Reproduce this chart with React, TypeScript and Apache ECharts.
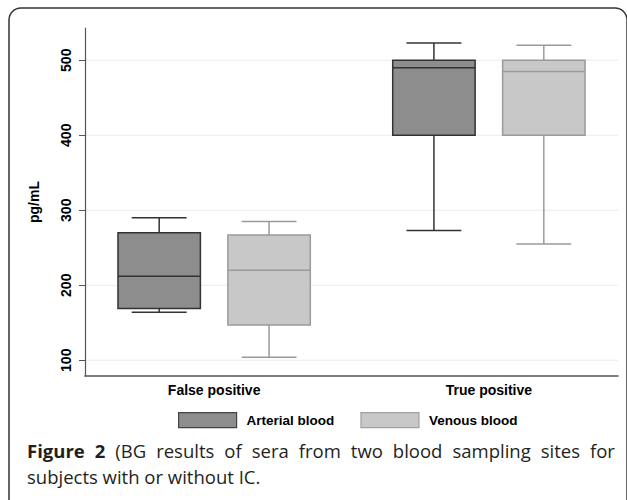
import React, { useEffect, useRef } from "react";
import * as echarts from "echarts";

const categories = ["False positive", "True positive"];
const seriesNames = ["Arterial blood", "Venous blood"];
// [categoryIndex, min, q1, median, q3, max]
const arterialBoxes = [
  [0, 164, 169, 212, 270, 290],
  [1, 273, 400, 490, 500, 523],
];
const venousBoxes = [
  [0, 104, 147, 220, 267, 285],
  [1, 255, 400, 485, 500, 520],
];
const yTicks = [100, 200, 300, 400, 500];
const captionBoldWords = ["Figure", "2"];
const captionLine1Words = ["(BG", "results", "of", "sera", "from", "two", "blood", "sampling", "sites", "for"];
const captionLine2 = "subjects with or without IC.";

function makeBoxRender(offset: number, stroke: string, fill: string, lw: number) {
  return (params: any, api: any) => {
    const x = api.value(0) + offset;
    const pMin = api.coord([x, api.value(1)]);
    const pQ1 = api.coord([x, api.value(2)]);
    const pMed = api.coord([x, api.value(3)]);
    const pQ3 = api.coord([x, api.value(4)]);
    const pMax = api.coord([x, api.value(5)]);
    const bw = api.size([0.3, 0])[0];
    const cw = api.size([0.2, 0])[0];
    const cx = pMed[0];
    const ls = { stroke, lineWidth: lw };
    return {
      type: "group",
      children: [
        { type: "line", shape: { x1: cx, y1: pQ3[1], x2: cx, y2: pMax[1] }, style: ls },
        { type: "line", shape: { x1: cx - cw / 2, y1: pMax[1], x2: cx + cw / 2, y2: pMax[1] }, style: ls },
        { type: "line", shape: { x1: cx, y1: pQ1[1], x2: cx, y2: pMin[1] }, style: ls },
        { type: "line", shape: { x1: cx - cw / 2, y1: pMin[1], x2: cx + cw / 2, y2: pMin[1] }, style: ls },
        {
          type: "rect",
          shape: { x: cx - bw / 2, y: pQ3[1], width: bw, height: pQ1[1] - pQ3[1] },
          style: { fill, stroke, lineWidth: lw },
        },
        { type: "line", shape: { x1: cx - bw / 2, y1: pMed[1], x2: cx + bw / 2, y2: pMed[1] }, style: ls },
      ],
    };
  };
}

export default function App() {
  const ref = useRef<HTMLDivElement>(null);
  useEffect(() => {
    document.body.style.margin = "0";
    const chart = echarts.init(ref.current!, null, { renderer: "svg" });
    const axisFont = "'Liberation Sans', Arial, sans-serif";
    const capFont = "'Open Sans', sans-serif";
    const capSize = 18.5;
    const line1 =
      captionBoldWords.map((w) => `{b|${w}}`).join("{s| }") +
      "{s| }" +
      captionLine1Words.map((w) => `{n|${w}}`).join("{s| }");
    chart.setOption({
      animation: false,
      backgroundColor: "#ffffff",
      grid: { left: 85, right: 9, top: 28, bottom: 124, containLabel: false },
      xAxis: {
        type: "value",
        min: -0.47,
        max: 1.47,
        axisLine: { show: true, onZero: false, lineStyle: { color: "#555", width: 1.5 } },
        axisTick: { show: false },
        splitLine: { show: false },
        axisLabel: {
          customValues: [0, 1],
          formatter: (v: number) => categories[Math.round(v)] ?? "",
          fontFamily: axisFont,
          fontWeight: "bold",
          fontSize: 14,
          color: "#000",
          margin: 7,
        },
      },
      yAxis: {
        type: "value",
        min: 79,
        max: 543,
        name: "pg/mL",
        nameLocation: "middle",
        nameGap: 44,
        nameRotate: 90,
        nameTextStyle: { fontFamily: axisFont, fontWeight: "bold", fontSize: 14, color: "#000" },
        axisLine: { show: true, onZero: false, lineStyle: { color: "#555", width: 1.2 } },
        axisTick: { show: true, customValues: yTicks, length: 6, lineStyle: { color: "#555" } },
        splitLine: { show: false },
        axisLabel: {
          customValues: yTicks,
          rotate: 90,
          fontFamily: axisFont,
          fontWeight: "bold",
          fontSize: 14,
          color: "#000",
          margin: 12,
        },
      },
      legend: {
        left: 173,
        top: 407,
        itemWidth: 58,
        itemHeight: 15,
        itemGap: 26,
        icon: "rect",
        textStyle: { fontFamily: axisFont, fontWeight: "bold", fontSize: 13.5, color: "#000", padding: [0, 0, 0, 5] },
        data: [
          { name: seriesNames[0], itemStyle: { color: "#8d8d8d", borderColor: "#444", borderWidth: 1.2 } },
          { name: seriesNames[1], itemStyle: { color: "#c8c8c8", borderColor: "#a0a0a0", borderWidth: 1.2 } },
        ],
      },
      series: [
        {
          type: "custom",
          name: "grid",
          silent: true,
          z: 0,
          data: yTicks.map((v) => [0, v]),
          encode: { x: 0, y: 1 },
          renderItem: (params: any, api: any) => {
            const cs = params.coordSys;
            const y = api.coord([0, api.value(1)])[1];
            return {
              type: "line",
              shape: { x1: cs.x, y1: y, x2: cs.x + cs.width, y2: y },
              style: { stroke: "#e6eeee", lineWidth: 1 },
            };
          },
        },
        {
          type: "custom",
          name: seriesNames[0],
          z: 2,
          itemStyle: { color: "#8d8d8d", borderColor: "#444" },
          data: arterialBoxes,
          encode: { x: 0, y: [1, 2, 3, 4, 5] },
          renderItem: makeBoxRender(-0.2, "#333", "#8d8d8d", 1.5),
        },
        {
          type: "custom",
          name: seriesNames[1],
          z: 2,
          itemStyle: { color: "#c8c8c8", borderColor: "#a0a0a0" },
          data: venousBoxes,
          encode: { x: 0, y: [1, 2, 3, 4, 5] },
          renderItem: makeBoxRender(0.2, "#9a9a9a", "#c8c8c8", 1.5),
        },
      ],
      graphic: [
        {
          type: "rect",
          z: -1,
          silent: true,
          shape: { x: 9, y: 8, width: 618, height: 540, r: 12 },
          style: { fill: "none", stroke: "#333", lineWidth: 1.5 },
        },
        {
          type: "text",
          left: 27,
          top: 441,
          style: {
            text: line1,
            rich: {
              b: { fontFamily: capFont, fontWeight: "bold", fontSize: capSize, fill: "#231f20" },
              n: { fontFamily: capFont, fontWeight: "normal", fontSize: capSize, fill: "#231f20" },
              s: { fontFamily: capFont, fontSize: capSize, width: 10, fill: "#231f20" },
            },
          },
        },
        {
          type: "text",
          left: 27,
          top: 467,
          style: {
            text: captionLine2,
            fontFamily: capFont,
            fontSize: capSize,
            fill: "#231f20",
          },
        },
      ],
    });
    return () => chart.dispose();
  }, []);
  return <div ref={ref} style={{ width: 627, height: 500 }} />;
}
